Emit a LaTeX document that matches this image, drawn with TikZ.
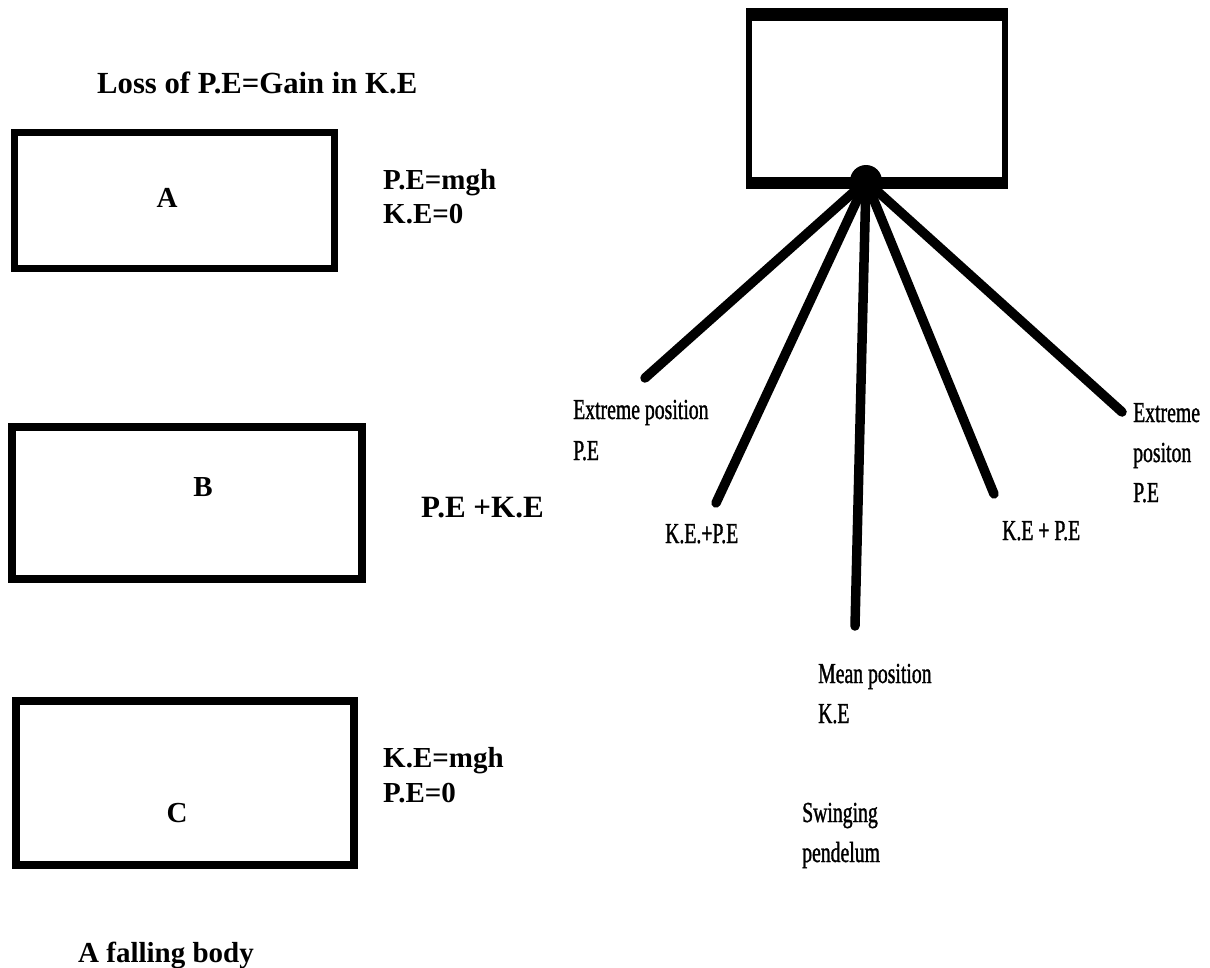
\documentclass[tikz,border=0pt]{standalone}
\usepackage{fontspec}
\setmainfont{Liberation Serif}
\newfontfamily\condfont[FakeStretch=0.68,FakeBold=1.2]{Liberation Serif}
\begin{document}
\begin{tikzpicture}[x=1pt,y=-1pt,
  box/.style={draw=black, line width=7pt, fill=none, inner sep=0pt},
  lbl/.style={font=\fontsize{29}{33}\selectfont\bfseries, anchor=base west, inner sep=0pt},
  clbl/.style={font=\fontsize{29}{40}\selectfont\condfont, anchor=base west, inner sep=0pt},
  letter/.style={font=\fontsize{29}{33}\selectfont\bfseries, anchor=base, inner sep=0pt},
  rod/.style={line width=9.5pt, line cap=round}]
\useasboundingbox (0,0) rectangle (1210,967);
\fill[white] (0,0) rectangle (1210,967);
% falling body
\node[lbl, font=\fontsize{30.7}{33}\selectfont\bfseries] (title) at (97,93) {Loss of P.E=Gain in K.E};
\node[box, minimum width=320pt, minimum height=136pt] (boxA) at (174,200) {};
\node[box, line width=8pt, minimum width=350pt, minimum height=152pt] (boxB) at (187,503) {};
\node[box, line width=8pt, minimum width=338pt, minimum height=164pt] (boxC) at (185,783) {};
\node[letter] (lA) at (167,207) {A};
\node[letter] (lB) at (203,496) {B};
\node[letter] (lC) at (177,822) {C};
\node[lbl] (a1) at (383,189) {P.E=mgh};
\node[lbl] (a2) at (383,223) {K.E=0};
\node[lbl, font=\fontsize{31}{33}\selectfont\bfseries] (b1) at (421,517) {P.E +K.E};
\node[lbl] (c1) at (383,767) {K.E=mgh};
\node[lbl] (c2) at (383,802) {P.E=0};
\node[lbl] (fall) at (78,962) {A falling body};
% pendulum
\node[fill=black, inner sep=0pt, minimum width=262pt, minimum height=181pt] (support) at (877,98.5) {};
\node[fill=white, inner sep=0pt, minimum width=250pt, minimum height=156pt] (supportin) at (877,99) {};
\coordinate (e1) at (645,378);
\coordinate (e2) at (716,503);
\coordinate (e3) at (855,626);
\coordinate (e4) at (994,494);
\coordinate (e5) at (1122,412);
\node[circle, fill=black, inner sep=0pt, minimum size=32pt] (pivot) at (866,181) {};
\foreach \e in {e1,e2,e3,e4,e5} \draw[rod] (pivot.center) -- (\e);
\node[clbl] (x1) at (573,419) {Extreme position};
\node[clbl] (x2) at (573,460) {P.E};
\node[clbl] (k1) at (665,543) {K.E.+P.E};
\node[clbl] (k2) at (1002,540) {K.E + P.E};
\node[clbl] (y1) at (1133,422) {Extreme};
\node[clbl] (y2) at (1133,462) {positon};
\node[clbl] (y3) at (1133,502) {P.E};
\node[clbl] (m1) at (818,683) {Mean position};
\node[clbl] (m2) at (818,723) {K.E};
\node[clbl] (s1) at (802,822) {Swinging};
\node[clbl] (s2) at (802,862) {pendelum};
\end{tikzpicture}
\end{document}
